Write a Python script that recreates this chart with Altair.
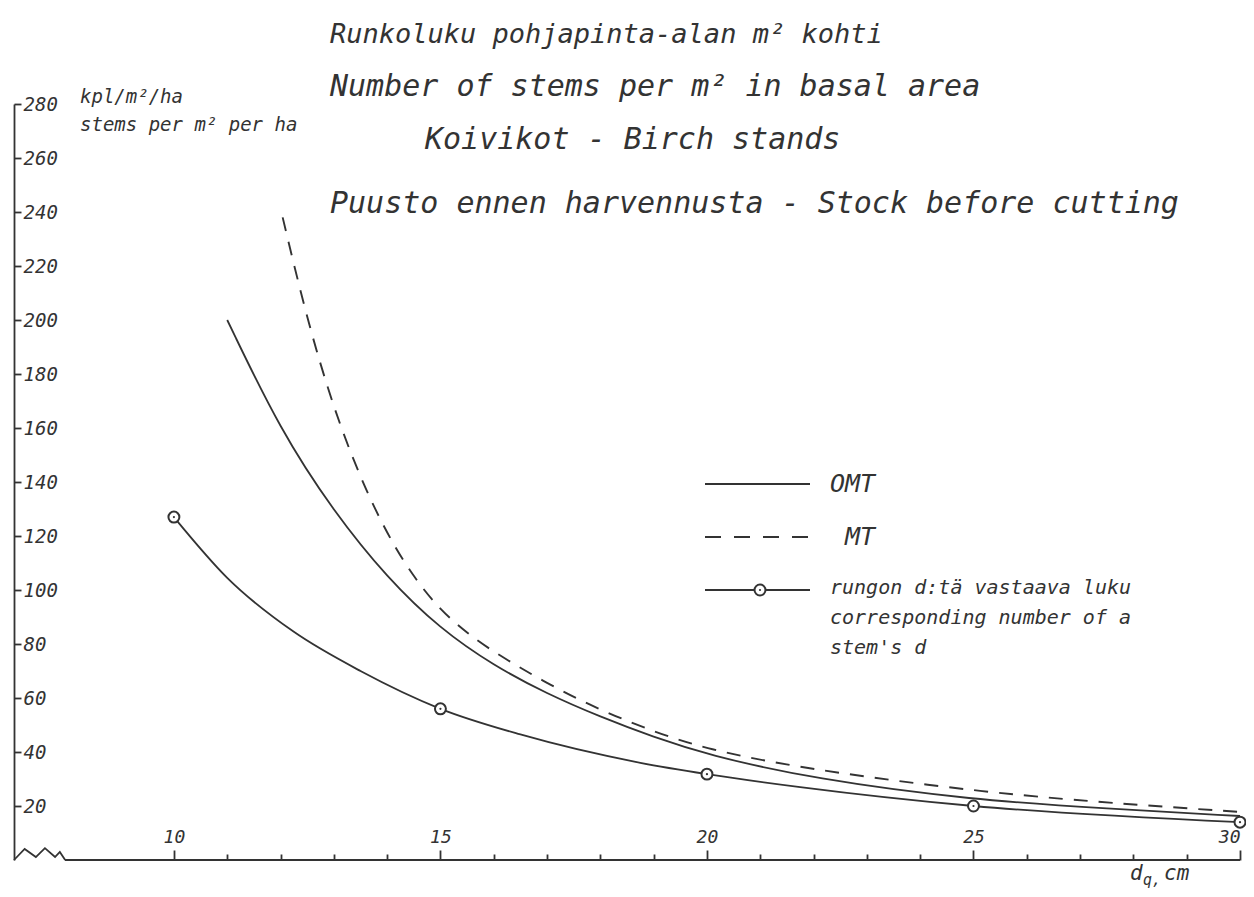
import altair as alt
import pandas as pd

# ---------------- data ----------------
# OMT (solid)
omt_d = [11, 12, 13, 14, 15, 16, 17, 18, 19, 20, 22, 25, 27.5, 30]
omt_n = [200, 159, 129, 104.5, 85.5, 72, 61.5, 53, 45.5, 39, 30, 22.2, 19, 16.3]

# MT (dashed)
mt_d = [12.04, 12.5, 13, 13.5, 14, 14.5, 15, 15.5, 16, 17, 18, 19, 20, 21.75, 25.25, 28, 30]
mt_n = [238, 200, 167, 141.3, 120.6, 104.6, 92.5, 84, 77, 65.3, 55.5, 47.5, 41, 34, 24.8, 20.5, 17.8]

# number corresponding to a stem's d (curve + circle markers)
stem_curve_d = [10, 11, 12.25, 13.5, 15, 16.5, 18.75, 20, 21.75, 25, 30]
stem_curve_n = [127, 104.5, 84.5, 70, 56, 46.5, 36, 31.8, 27, 20, 14]
stem_mark_d = [10, 15, 20, 25, 30]
stem_mark_n = [127, 56, 31.8, 20, 14]

x_tick_values = list(range(10, 31))
y_tick_values = list(range(20, 281, 20))

# axis-break decoration (zigzag at the origin), in data units
break_x = [7.0, 7.2, 7.41, 7.58, 7.77, 7.86, 7.96]
break_y = [0.0, 4.1, 1.1, 4.4, 1.1, 3.0, 0.0]

# ---------------- styling ----------------
INK = "#333333"
FONT = "DejaVu Sans Mono"
W, H = 1226, 756

xs = alt.Scale(domain=[7, 30], nice=False, zero=False)
ys = alt.Scale(domain=[0, 280], nice=False, zero=True)

omt_df = pd.DataFrame({"d": omt_d, "n": omt_n})
mt_df = pd.DataFrame({"d": mt_d, "n": mt_n})
stem_df = pd.DataFrame({"d": stem_curve_d, "n": stem_curve_n})
mark_df = pd.DataFrame({"d": stem_mark_d, "n": stem_mark_n})
break_df = pd.DataFrame({"d": break_x, "n": break_y, "o": list(range(len(break_x)))})
one = pd.DataFrame({"a": [0]})

x_axis = alt.Axis(
    orient="top", offset=-H, values=x_tick_values, domain=False, grid=False,
    labelExpr="datum.value % 5 === 0 ? datum.label : ''",
    tickSize={"condition": {"test": "datum.value % 5 === 0", "value": 10}, "value": 6},
    labelAlign={"condition": {"test": "datum.value === 30", "value": "right"}, "value": "center"},
    tickColor=INK, tickWidth=1.8, labelFont=FONT, labelFontStyle="italic",
    labelFontSize=18, labelColor=INK, labelPadding=4, labelFlush=False,
    labelOverlap=False, labelAngle=0, title=None,
)
y_axis = alt.Axis(
    orient="right", offset=-W, values=y_tick_values, domain=True, grid=False,
    domainColor=INK, domainWidth=1.8, tickColor=INK, tickWidth=1.8, tickSize=7,
    labelAlign="left", labelPadding=2, labelFont=FONT, labelFontStyle="italic",
    labelFontSize=19, labelColor=INK, labelFlush=False, labelOverlap=False, title=None,
)

X = alt.X("d:Q", scale=xs)
Y = alt.Y("n:Q", scale=ys)

stem_line = alt.Chart(stem_df).mark_line(
    interpolate="monotone", color=INK, strokeWidth=1.8
).encode(
    x=alt.X("d:Q", scale=xs, axis=x_axis),
    y=alt.Y("n:Q", scale=ys, axis=y_axis),
)

omt_line = alt.Chart(omt_df).mark_line(
    interpolate="basis", color=INK, strokeWidth=1.8
).encode(x=X, y=Y)

mt_line = alt.Chart(mt_df).mark_line(
    interpolate="basis", color=INK, strokeWidth=1.9, strokeDash=[14, 11]
).encode(x=X, y=Y)

marks_ring = alt.Chart(mark_df).mark_point(
    shape="circle", size=120, fill="white", fillOpacity=1, stroke=INK, strokeWidth=2, opacity=1
).encode(x=X, y=Y)
marks_dot = alt.Chart(mark_df).mark_point(
    shape="circle", size=5, filled=True, color=INK, opacity=1
).encode(x=X, y=Y)

zigzag = alt.Chart(break_df).mark_line(color=INK, strokeWidth=1.8).encode(
    x=X, y=Y, order="o:Q"
)
x_base = alt.Chart(one).mark_rule(color=INK, strokeWidth=1.8).encode(
    x=alt.value(51), x2=alt.value(W), y=alt.value(H)
)


def txt(s, x, y, size, align="left"):
    return alt.Chart(one).mark_text(
        text=s, align=align, baseline="middle", font=FONT, fontStyle="italic",
        fontSize=size, color=INK,
    ).encode(x=alt.value(x), y=alt.value(y))


def hline(x1, x2, y, dash=None):
    kw = dict(color=INK, strokeWidth=1.8)
    if dash:
        kw["strokeDash"] = dash
    return alt.Chart(one).mark_rule(**kw).encode(x=alt.value(x1), x2=alt.value(x2), y=alt.value(y))


texts = [
    txt("Runkoluku pohjapinta-alan m² kohti", 316, -69, 27),
    txt("Number of stems per m² in basal area", 316, -17, 30),
    txt("Koivikot - Birch stands", 411, 36, 30),
    txt("Puusto ennen harvennusta - Stock before cutting", 316, 100, 30),
    txt("kpl/m²/ha", 66, -7, 19),
    txt("stems per m² per ha", 66, 21, 19),
    txt("OMT", 816, 380, 25),
    txt("MT", 831, 433, 25),
    txt("rungon d:tä vastaava luku", 816, 484, 20),
    txt("corresponding number of a", 816, 514, 20),
    txt("stem's d", 816, 544, 20),
    txt("d", 1116, 770, 21),
    txt("q,", 1129, 776, 15),
    txt("cm", 1150, 770, 21),
]

legend = [
    hline(691, 796, 380),
    hline(691, 796, 433, dash=[16, 13]),
    hline(691, 796, 486),
    alt.Chart(one).mark_point(
        shape="circle", size=120, fill="white", fillOpacity=1, stroke=INK, strokeWidth=2, opacity=1
    ).encode(x=alt.value(746), y=alt.value(486)),
    alt.Chart(one).mark_point(shape="circle", size=5, filled=True, color=INK, opacity=1).encode(
        x=alt.value(746), y=alt.value(486)
    ),
]

chart = alt.layer(
    stem_line, omt_line, mt_line, marks_ring, marks_dot, zigzag, x_base, *legend, *texts
).properties(
    width=W, height=H, autosize=alt.AutoSizeParams(type="none"),
    padding={"left": 6, "top": 96, "right": 6, "bottom": 28},
    background="white",
).configure_view(stroke=None)

chart.save("out.html", embed_options={"renderer": "svg", "actions": False})
